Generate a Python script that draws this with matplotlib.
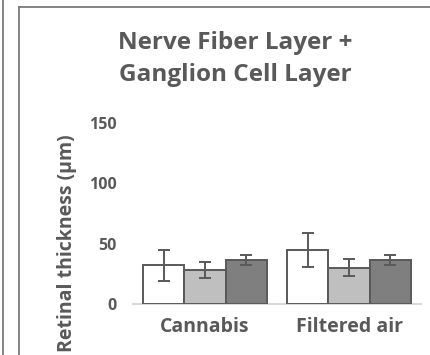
"""
plot.py – retinal thickness bar chart (NFL + GCL)
"""
import matplotlib
matplotlib.use("Agg")
import matplotlib.pyplot as plt
from matplotlib.lines import Line2D
import numpy as np

# ── data ────────────────────────────────────────────────────────────────────
groups = ["Cannabis", "Filtered air"]
series_a = [32, 45]          # white bars
series_a_err = [13, 14]
series_b = [28, 30]          # light gray bars
series_b_err = [6.5, 7]
series_c = [36.5, 36.5]      # dark gray bars
series_c_err = [4.5, 4.5]
yticks = [0, 50, 100, 150]

TXT = "#595959"
plt.rcParams["font.family"] = ["Open Sans", "DejaVu Sans"]
plt.rcParams["font.weight"] = "bold"

fig = plt.figure(figsize=(4.31, 3.55), dpi=100)
W, H = 431, 355
ax = fig.add_axes([133 / W, 1 - 304 / H, 288 / W, 181 / H])

x = np.arange(len(groups))
bw = 0.285
fills = ["white", "#bfbfbf", "#7f7f7f"]
for i, (vals, errs) in enumerate([(series_a, series_a_err),
                                  (series_b, series_b_err),
                                  (series_c, series_c_err)]):
    ax.bar(x + (i - 1) * bw, vals, bw, color=fills[i], edgecolor=TXT,
           linewidth=1.4, yerr=errs, capsize=4.3,
           error_kw=dict(ecolor=TXT, elinewidth=1.4, capthick=1.4),
           zorder=2)

ax.set_xlim(-0.5, 1.5)
ax.set_ylim(0, 150)
ax.set_yticks(yticks)
ax.set_yticklabels([str(v) for v in yticks])
ax.set_xticks(x)
ax.set_xticklabels(groups)
ax.tick_params(axis="y", length=0, pad=12, labelsize=11.5, labelcolor=TXT)
ax.tick_params(axis="x", length=0, pad=9, labelsize=14, labelcolor=TXT)
for s in ax.spines.values():
    s.set_visible(False)
ax.axhline(0, color="#d9d9d9", lw=1.5, zorder=1, clip_on=False)

# ── titles ──────────────────────────────────────────────────────────────────
fig.text(235 / W, 1 - 59 / H, "Nerve Fiber Layer +\nGanglion Cell Layer",
         ha="center", va="center", fontsize=17.5, color=TXT,
         fontweight="bold", linespacing=1.42)
fig.text(67 / W, 1 - 243 / H, "Retinal thickness (µm)", rotation=90,
         ha="center", va="center", fontsize=14, color=TXT,
         fontweight="bold")

# ── frame lines (panel borders) ─────────────────────────────────────────────
fc = "#7a7a7a"
fig.add_artist(Line2D([3.5 / W, 3.5 / W], [0, 1], color=fc, lw=1.3))
fig.add_artist(Line2D([19.5 / W, 19.5 / W], [0, 1 - 7 / H], color=fc, lw=1.3))
fig.add_artist(Line2D([19.5 / W, 1], [1 - 7 / H, 1 - 7 / H], color=fc, lw=1.3))

fig.savefig("out.png", dpi=100)
